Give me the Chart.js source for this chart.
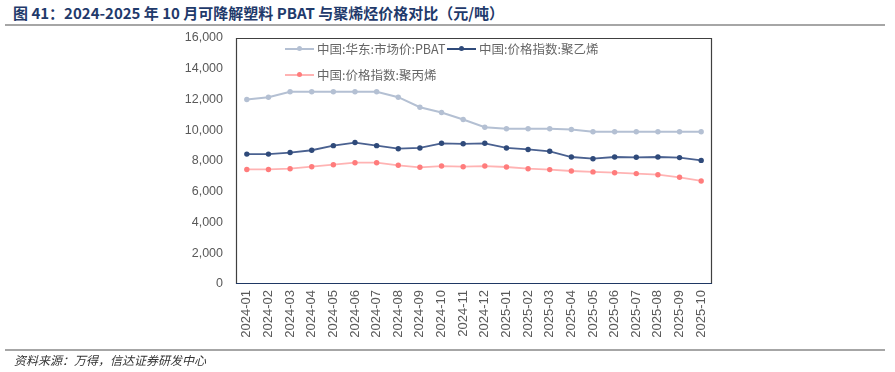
<!DOCTYPE html>
<html>
<head>
<meta charset="utf-8">
<script src="https://cdn.jsdelivr.net/npm/chart.js@4.4.0/dist/chart.umd.min.js"></script>
<style>
  body { margin: 0; background: #fff; }
  #wrap { position: relative; width: 895px; height: 372px; }
  #chartBox { position: absolute; left: 0; top: 0; width: 895px; height: 372px; }
  .title { position: absolute; left: 13px; top: 2px; font: bold 15px "Noto Sans CJK SC", sans-serif; color: #1f3a6b; white-space: nowrap; }
  .rule { position: absolute; left: 5px; width: 880px; height: 2px; background: #a6a6a6; }
  .source { position: absolute; left: 14px; top: 351px; font: italic 12px "Noto Sans CJK SC", sans-serif; color: #333; white-space: nowrap; }
  .legend { position: absolute; font: 12.5px "Noto Sans CJK SC", sans-serif; color: #666; white-space: nowrap; display: flex; align-items: center; }
  .legend .sw { position: relative; width: 29px; height: 2px; margin-right: 3px; }
  .legend .sw i { position: absolute; left: 12px; top: -2px; width: 5px; height: 5px; border-radius: 50%; }
</style>
</head>
<body>
<div id="wrap">
  <div class="title">图 41：2024-2025 年 10 月可降解塑料 PBAT 与聚烯烃价格对比（元/吨）</div>
  <div class="rule" style="top:24px"></div>
  <div id="chartBox"><canvas id="myChart"></canvas></div>
  <div class="legend" style="left:285px; top:39px"><span class="sw" style="background:#b4c0d3"><i style="background:#b4c0d3"></i></span>中国:华东:市场价:PBAT</div>
  <div class="legend" style="left:447px; top:39px"><span class="sw" style="background:#2f4a7a"><i style="background:#2f4a7a"></i></span>中国:价格指数:聚乙烯</div>
  <div class="legend" style="left:285px; top:65px"><span class="sw" style="background:#ffb3b3"><i style="background:#ff7c7c"></i></span>中国:价格指数:聚丙烯</div>
  <div class="rule" style="top:349px"></div>
  <div class="source">资料来源：万得，信达证券研发中心</div>
</div>
<script>
// months on the x axis
var labels = [
    '2024-01', '2024-02', '2024-03', '2024-04', '2024-05', '2024-06',
    '2024-07', '2024-08', '2024-09', '2024-10', '2024-11', '2024-12',
    '2025-01', '2025-02', '2025-03', '2025-04', '2025-05', '2025-06',
    '2025-07', '2025-08', '2025-09', '2025-10'
];

// prices, yuan per tonne
var pbat = [12000, 12150, 12500, 12500, 12500, 12500, 12500, 12150, 11500, 11150, 10700, 10200,
            10100, 10100, 10100, 10050, 9900, 9900, 9900, 9900, 9900, 9900];
var pe = [8450, 8450, 8550, 8700, 9000, 9200, 9000, 8800, 8850, 9150, 9120, 9150,
          8850, 8750, 8630, 8260, 8150, 8260, 8240, 8260, 8220, 8040];
var pp = [7450, 7450, 7500, 7630, 7760, 7890, 7890, 7720, 7590, 7670, 7630, 7670,
          7610, 7500, 7440, 7350, 7290, 7240, 7180, 7110, 6940, 6700];

var yTicks = [0, 2000, 4000, 6000, 8000, 10000, 12000, 14000, 16000];

// draws the box round the plot area
var boxPlugin = {
    id: 'box',
    afterDraw: function(chart) {
        var a = chart.chartArea, c = chart.ctx;
        c.save();
        c.lineWidth = 1.2;
        c.strokeStyle = '#404040';
        c.beginPath();
        c.moveTo(a.left + 0.5, a.bottom);
        c.lineTo(a.left + 0.5, a.top + 0.5);
        c.lineTo(a.right - 0.5, a.top + 0.5);
        c.lineTo(a.right - 0.5, a.bottom);
        c.stroke();
        c.strokeStyle = '#1f3864';
        c.beginPath();
        c.moveTo(a.left, a.bottom - 0.5);
        c.lineTo(a.right, a.bottom - 0.5);
        c.stroke();
        c.restore();
    }
};

var ctx = document.getElementById('myChart').getContext('2d');
var myChart = new Chart(ctx, {
    type: 'line',
    data: {
        labels: labels,
        datasets: [
            {
                label: '中国:华东:市场价:PBAT',
                data: pbat,
                borderColor: '#b4c0d3',
                backgroundColor: '#b4c0d3',
                borderWidth: 2,
                pointRadius: 2.7,
                pointBorderWidth: 0,
                tension: 0
            },
            {
                label: '中国:价格指数:聚乙烯',
                data: pe,
                borderColor: '#4a6190',
                backgroundColor: '#2f4a7a',
                borderWidth: 1.8,
                pointRadius: 2.7,
                pointBorderWidth: 0,
                tension: 0
            },
            {
                label: '中国:价格指数:聚丙烯',
                data: pp,
                borderColor: '#ffb3b3',
                backgroundColor: '#ff7c7c',
                borderWidth: 1.8,
                pointRadius: 2.7,
                pointBorderWidth: 0,
                tension: 0
            }
        ]
    },
    options: {
        responsive: true,
        maintainAspectRatio: false,
        animation: false,
        layout: {
            padding: { top: 38, right: 183, left: 0, bottom: 0 }
        },
        plugins: {
            legend: { display: false },
            tooltip: { enabled: false }
        },
        scales: {
            x: {
                offset: true,
                grid: { display: false, drawTicks: false },
                border: { display: false },
                ticks: {
                    color: '#595959',
                    font: { family: 'Liberation Sans', size: 13 },
                    maxRotation: 90,
                    minRotation: 90,
                    padding: 6,
                    autoSkip: false
                },
                afterFit: function(s) { s.height = 88; }
            },
            y: {
                min: 0,
                max: 16000,
                grid: { display: false, drawTicks: false },
                border: { display: false },
                afterBuildTicks: function(s) {
                    s.ticks = yTicks.map(function(v) { return { value: v }; });
                },
                ticks: {
                    color: '#595959',
                    font: { family: 'Liberation Sans', size: 12.5 },
                    padding: 13,
                    callback: function(v) { return v.toLocaleString('en-US'); }
                },
                afterFit: function(s) { s.width = 236; }
            }
        }
    },
    plugins: [boxPlugin]
});
</script>
</body>
</html>
